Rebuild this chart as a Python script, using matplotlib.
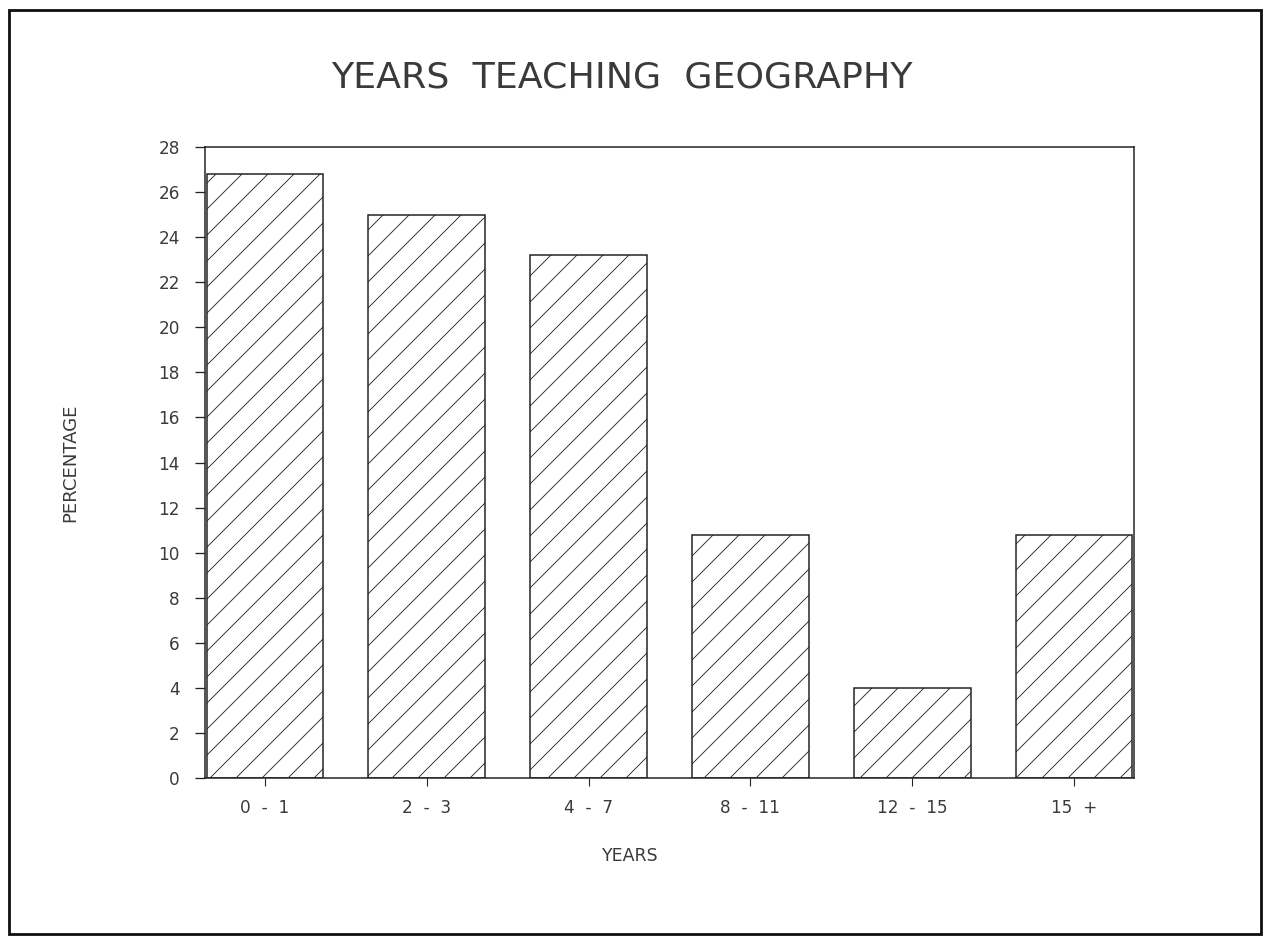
import matplotlib
matplotlib.use("Agg")
import matplotlib.pyplot as plt
from matplotlib.patches import Rectangle

categories = ["0  -  1", "2  -  3", "4  -  7", "8  -  11", "12  -  15", "15  +"]
percentages = [26.8, 25.0, 23.2, 10.8, 4.0, 10.8]
yticks = list(range(0, 29, 2))

DPI = 156
plt.rcParams['hatch.linewidth'] = 0.4
plt.rcParams['hatch.color'] = '#555555'
plt.rcParams['font.family'] = ['DejaVu Sans']

fig = plt.figure(figsize=(1265 / DPI, 937 / DPI), dpi=DPI)
ax = fig.add_axes([205 / 1265, 1 - 778 / 937, (1134 - 205) / 1265, (778 - 147) / 937])

x = list(range(len(categories)))
ax.bar(x, percentages, width=0.72, color='white', edgecolor='#222222',
       linewidth=0.7, hatch='//')

ax.set_xlim(-0.37, len(categories) - 1 + 0.37)
ax.set_ylim(0, 28)
ax.set_yticks(yticks)
ax.set_yticklabels([str(v) for v in yticks], fontsize=7.8, color='#3a3a3a')
ax.set_xticks(x)
ax.set_xticklabels(categories, fontsize=7.8, color='#3a3a3a')
ax.tick_params(axis='y', length=4.6, width=0.6, pad=7, color='#222222')
ax.tick_params(axis='x', length=3.6, width=0.5, pad=6, color='#222222')
for s in ax.spines.values():
    s.set_linewidth(0.7)
    s.set_color('#222222')

fig.text(630 / 1265, 1 - 856 / 937, "YEARS", ha='center', va='center',
         fontsize=8.0, color='#3a3a3a')
fig.text(70 / 1265, 1 - 463 / 937, "PERCENTAGE", ha='center', va='center',
         rotation=90, fontsize=8.4, color='#3a3a3a')
fig.text(622 / 1265, 1 - 77 / 937, "YEARS  TEACHING  GEOGRAPHY", ha='center',
         va='center', fontsize=16.8, color='#3a3a3a')

fig.patches.append(Rectangle((9 / 1265, 1 - 934 / 937), (1261 - 9) / 1265,
                             (934 - 10) / 937, transform=fig.transFigure,
                             fill=False, edgecolor='#111111', linewidth=1.3))

fig.savefig("out.png", dpi=DPI, facecolor='white')
